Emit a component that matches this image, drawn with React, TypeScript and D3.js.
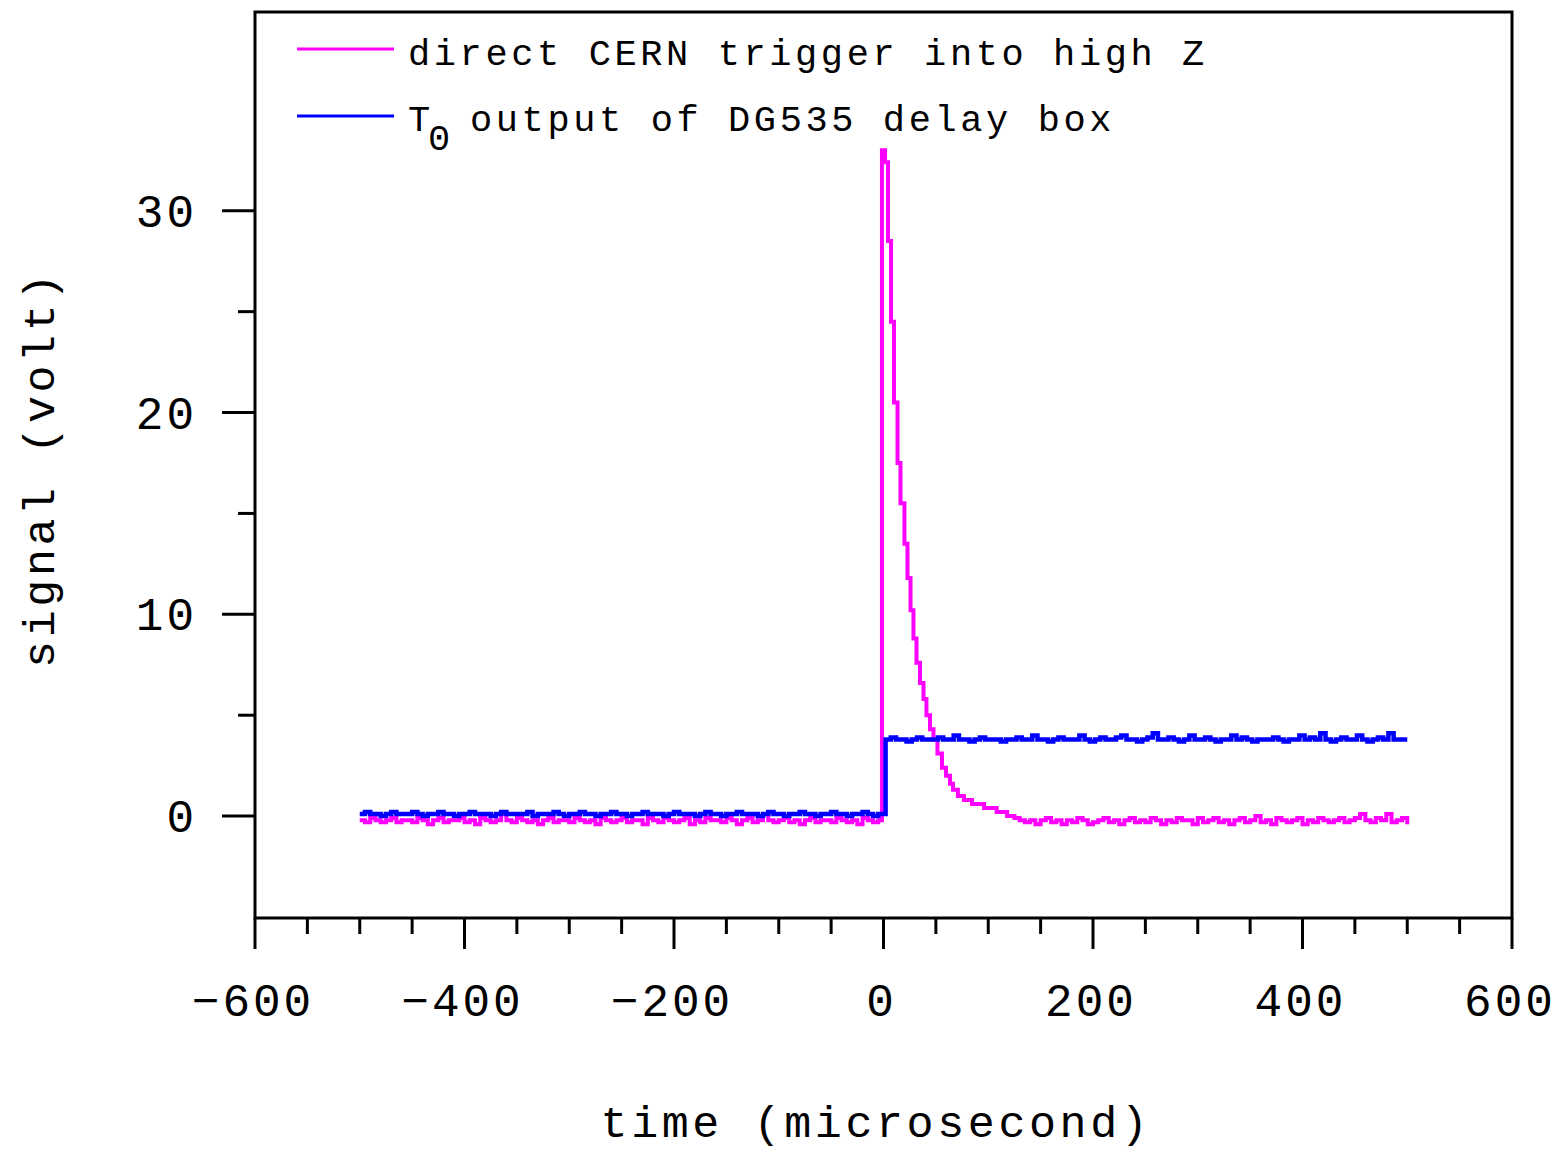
import * as d3 from "d3";

// time axis ticks (microsecond)
const xMajorTicks = [-600, -400, -200, 0, 200, 400, 600];
const xMinorTicks = [-550, -500, -450, -350, -300, -250, -150, -100, -50, 50, 100, 150, 250, 300, 350, 450, 500, 550];
const yMajorTicks = [0, 10, 20, 30];
const yMinorTicks = [5, 15, 25];

// CERN trigger, pre-trigger baseline, sampled every 5 us from -500
const magentaPre = [
  -0.2, -0.3, -0.1, -0.2, -0.3, -0.2, -0.1, -0.3, -0.2, -0.2,
  -0.3, -0.1, -0.2, -0.4, -0.2, -0.1, -0.3, -0.2, -0.2, -0.1,
  -0.3, -0.2, -0.4, -0.1, -0.2, -0.3, -0.2, 0.1, -0.2, -0.3,
  -0.1, -0.2, -0.3, -0.2, -0.4, -0.2, -0.1, -0.3, -0.2, -0.2,
  -0.3, -0.1, -0.2, -0.3, -0.2, -0.4, -0.1, -0.2, -0.3, -0.2,
  -0.1, -0.3, -0.2, -0.2, -0.4, -0.1, -0.2, -0.3, -0.1, -0.2,
  -0.3, -0.2, -0.1, -0.4, -0.2, -0.3, -0.1, -0.2, -0.2, -0.3,
  -0.1, -0.2, -0.4, -0.2, -0.1, -0.3, -0.2, 0.1, -0.2, -0.3,
  -0.2, -0.1, -0.3, -0.2, -0.4, -0.2, -0.1, -0.3, -0.2, -0.2,
  -0.3, -0.1, -0.2, -0.3, -0.2, -0.4, -0.1, -0.2, -0.3, -0.2,
];
// the pulse and its decay
const decayTimes = [-1.5, 1.5, 4.3, 7.2, 10, 13.4, 16.2, 20, 22.9, 25.8, 28.6, 31.5, 34.8, 38.2, 41, 44.4, 47.7, 51.5, 55.8, 59.7, 63.5, 66.3, 71, 76.8, 84.5, 96, 108, 118];
const decayValues = [33, 32.4, 28.5, 24.5, 20.5, 17.5, 15.5, 13.5, 11.8, 10.2, 8.8, 7.6, 6.6, 5.8, 5.0, 4.3, 3.8, 3.1, 2.4, 2.0, 1.6, 1.3, 1.0, 0.8, 0.6, 0.4, 0.2, 0.0];
// tail, every 5 us from 125 to 500
const magentaPost = [
  -0.1, -0.2, -0.3, -0.2, -0.4, -0.2, -0.1, -0.3, -0.2, -0.4,
  -0.2, -0.3, -0.1, -0.2, -0.4, -0.3, -0.2, -0.1, -0.3, -0.2,
  -0.4, -0.2, -0.1, -0.3, -0.2, -0.3, -0.1, -0.2, -0.4, -0.2,
  -0.3, -0.1, -0.2, -0.2, -0.4, -0.1, -0.3, -0.2, -0.1, -0.3,
  -0.2, -0.4, -0.2, -0.1, -0.3, -0.2, 0.0, -0.3, -0.2, -0.4,
  -0.1, -0.2, -0.3, -0.2, -0.1, -0.4, -0.2, -0.3, -0.1, -0.2,
  -0.3, -0.2, -0.1, -0.3, -0.2, -0.1, 0.1, -0.2, -0.3, -0.1,
  -0.2, 0.1, -0.3, -0.2, -0.1, -0.4,
];

// DG535 T0 output, every 5 us from -500 to 0
const bluePre = [
  0.1, 0.2, 0.1, 0.1, 0.0, 0.1, 0.2, 0.1, 0.1, 0.1,
  0.2, 0.1, 0.0, 0.1, 0.1, 0.2, 0.1, 0.1, 0.0, 0.1,
  0.1, 0.2, 0.1, 0.1, 0.1, 0.0, 0.1, 0.2, 0.1, 0.1,
  0.1, 0.1, 0.2, 0.0, 0.1, 0.1, 0.1, 0.2, 0.1, 0.0,
  0.1, 0.1, 0.2, 0.1, 0.1, 0.0, 0.1, 0.1, 0.2, 0.1,
  0.1, 0.0, 0.1, 0.1, 0.2, 0.1, 0.1, 0.1, 0.0, 0.1,
  0.2, 0.1, 0.1, 0.1, 0.0, 0.1, 0.2, 0.1, 0.1, 0.0,
  0.1, 0.1, 0.2, 0.1, 0.1, 0.1, 0.0, 0.1, 0.2, 0.1,
  0.1, 0.0, 0.1, 0.1, 0.2, 0.1, 0.1, 0.0, 0.1, 0.1,
  0.2, 0.1, 0.1, 0.0, 0.1, 0.1, 0.2, 0.1, 0.0, 0.1,
  0.1,
];
// after the step, every 5 us from 2 to 497
const bluePost = [
  3.8, 3.9, 3.8, 3.8, 3.7, 3.8, 3.9, 3.8, 3.8, 3.8,
  3.9, 3.8, 3.8, 4.0, 3.8, 3.8, 3.7, 3.8, 3.9, 3.8,
  3.8, 3.8, 3.7, 3.8, 3.8, 3.9, 3.8, 3.8, 4.0, 3.8,
  3.8, 3.7, 3.8, 3.9, 3.8, 3.8, 3.8, 4.0, 3.8, 3.7,
  3.8, 3.9, 3.8, 3.8, 3.9, 4.0, 3.8, 3.8, 3.7, 3.8,
  3.9, 4.1, 3.8, 3.8, 3.9, 3.8, 3.7, 3.8, 4.0, 3.8,
  3.8, 3.9, 3.8, 3.7, 3.8, 3.8, 4.0, 3.8, 3.9, 3.8,
  3.7, 3.8, 3.8, 3.8, 3.9, 3.8, 3.7, 3.8, 3.8, 4.0,
  3.8, 3.9, 3.8, 4.1, 3.8, 3.7, 3.8, 3.9, 3.8, 3.8,
  4.0, 3.8, 3.7, 3.8, 3.9, 3.8, 4.1, 3.8, 3.8, 3.8,
];

const W = 1558;
const H = 1152;
const plot = { left: 255, right: 1512, top: 12, bottom: 918 };
const font = "'Liberation Mono', 'DejaVu Sans Mono', monospace";

type Pt = [number, number];

const magentaData: Pt[] = [
  ...magentaPre.map((v, i) => [-500 + i * 5, v] as Pt),
  ...decayValues.map((v, i) => [decayTimes[i], v] as Pt),
  ...magentaPost.map((v, i) => [125 + i * 5, v] as Pt),
];
const blueData: Pt[] = [
  ...bluePre.map((v, i) => [-500 + i * 5, v] as Pt),
  ...bluePost.map((v, i) => [2 + i * 5, v] as Pt),
  [500, bluePost[bluePost.length - 1]],
];

const App = () => {
  const x = d3.scaleLinear().domain([-600, 600]).range([plot.left, plot.right]);
  const y = d3.scaleLinear().domain([-5.05, 39.85]).range([plot.bottom, plot.top]);

  const line = d3
    .line<Pt>()
    .x((d) => x(d[0]))
    .y((d) => y(d[1]))
    .curve(d3.curveStepAfter);

  return (
    <svg
      width={W}
      height={H}
      style={{ position: "absolute", left: 0, top: 0, background: "#fff" }}
    >
      {/* Data traces */}
      <path d={line(magentaData)!} fill="none" stroke="#ff00ff" strokeWidth={4} />
      <path d={line(blueData)!} fill="none" stroke="#0000ff" strokeWidth={4.5} />

      {/* Frame */}
      <rect
        x={plot.left}
        y={plot.top}
        width={plot.right - plot.left}
        height={plot.bottom - plot.top}
        fill="none"
        stroke="#000"
        strokeWidth={3}
      />

      {/* X ticks */}
      {xMajorTicks.map((t) => (
        <g key={"xM" + t}>
          <line x1={x(t)} x2={x(t)} y1={plot.bottom} y2={plot.bottom + 31} stroke="#000" strokeWidth={3} />
          <text
            x={x(t) - 2}
            y={1016}
            textAnchor="middle"
            fontFamily={font}
            fontSize={46}
            letterSpacing={3}
          >
            {t < 0 ? "\u2212" + Math.abs(t) : String(t)}
          </text>
        </g>
      ))}
      {xMinorTicks.map((t) => (
        <line key={"xm" + t} x1={x(t)} x2={x(t)} y1={plot.bottom} y2={plot.bottom + 16} stroke="#000" strokeWidth={3} />
      ))}

      {/* Y ticks */}
      {yMajorTicks.map((t) => (
        <g key={"yM" + t}>
          <line x1={plot.left - 33} x2={plot.left} y1={y(t)} y2={y(t)} stroke="#000" strokeWidth={3} />
          <text
            x={197}
            y={y(t) + 16}
            textAnchor="end"
            fontFamily={font}
            fontSize={46}
            letterSpacing={3}
          >
            {t}
          </text>
        </g>
      ))}
      {yMinorTicks.map((t) => (
        <line key={"ym" + t} x1={plot.left - 17} x2={plot.left} y1={y(t)} y2={y(t)} stroke="#000" strokeWidth={3} />
      ))}

      {/* Axis titles */}
      <text x={876} y={1137} textAnchor="middle" fontFamily={font} fontSize={45} letterSpacing={3.6}>
        time (microsecond)
      </text>
      <text
        transform={`translate(54, 469) rotate(-90)`}
        textAnchor="middle"
        fontFamily={font}
        fontSize={45}
        letterSpacing={3.6}
      >
        signal (volt)
      </text>

      {/* Legend */}
      <line x1={297} x2={394} y1={49} y2={49} stroke="#ff00ff" strokeWidth={3} />
      <text x={408} y={65} fontFamily={font} fontSize={37} letterSpacing={3.6}>
        direct CERN trigger into high Z
      </text>
      <line x1={297} x2={394} y1={116} y2={116} stroke="#0000ff" strokeWidth={3} />
      <text x={408} y={131} fontFamily={font} fontSize={37}>
        T
      </text>
      <text x={428} y={150} fontFamily={font} fontSize={37}>
        0
      </text>
      <text x={470} y={131} fontFamily={font} fontSize={37} letterSpacing={3.6}>
        output of DG535 delay box
      </text>
    </svg>
  );
};

export default App;
